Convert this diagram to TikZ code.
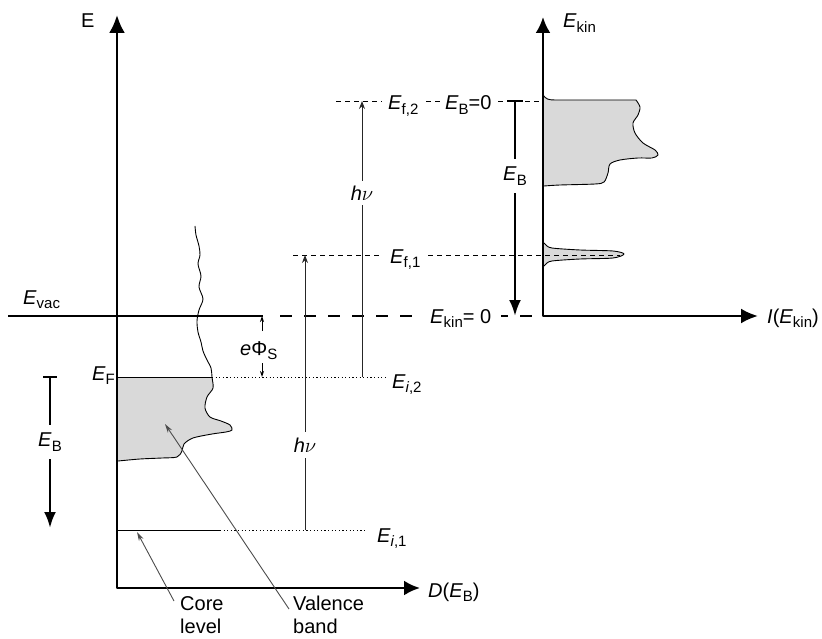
\documentclass[tikz,border=0pt]{standalone}
\usepackage{fontspec}
\setmainfont{Liberation Sans}
\usetikzlibrary{arrows.meta}
\newcommand{\Ei}{\textit{E}}
\newcommand{\sbs}[1]{\raisebox{-4.5pt}{\fontsize{15}{15}\selectfont #1}}
\begin{document}
\begin{tikzpicture}[x=1pt,y=-1pt,line join=round,
  lbl/.style={inner sep=0pt,font=\fontsize{20}{23}\selectfont},
  wlbl/.style={lbl,fill=white,inner xsep=3pt,inner ysep=2pt},
  ax/.style={line width=2.6pt},
  bigtip/.style={-{Latex[length=16pt,width=14pt]}},
  midtip/.style={-{Latex[length=16pt,width=12pt]}},
  thinln/.style={line width=0.9pt},
  hvline/.style={line width=0.9pt,black!85,-{Stealth[length=8pt,width=6pt]}},
  ptr/.style={line width=0.9pt,black!70,-{Stealth[length=9pt,width=5pt]}},
  smallptr/.style={line width=0.9pt,-{Stealth[length=6pt,width=4pt]}},
  thindash/.style={line width=0.9pt,dash pattern=on 5pt off 4pt},
  thickdash/.style={line width=2.6pt,dash pattern=on 12pt off 12pt},
  dots/.style={line width=1pt,dash pattern=on 1.2pt off 2.4pt},
]
\useasboundingbox (0,0) rectangle (822,639);

% ---------- left density of states ----------
\fill[black!15] (117,377) -- plot[smooth] coordinates {(212,377) (213,388) (207,397) (205,408) (210,417) (221,421) (230,425) (232,430) (226,432) (212,434) (193,438) (184,444) (182,451) (177,457) (162,458) (140,459) (118,461)} -- cycle;
\draw[thinln] plot[smooth] coordinates {(195,226) (196,235) (199,246) (200,255) (198,264) (201,276) (199,287) (203,299) (199,310) (197,321) (198,332) (201,342) (203,351) (207,360) (211,368) (212,377) (213,388) (207,397) (205,408) (210,417) (221,421) (230,425) (232,430) (226,432) (212,434) (193,438) (184,444) (182,451) (177,457) (162,458) (140,459) (118,461)};

% ---------- right spectrum ----------
\filldraw[thinln,fill=black!15] (543,95) .. controls (546,99) and (548,100) .. (555,100) -- plot[smooth] coordinates {(636,100) (640,107) (638,115) (633,123) (635,133) (643,143) (655,150) (658,155) (652,158) (638,158) (620,160) (610,164) (608,173) (604,182) (595,184) (560,185) (544,186)};
\filldraw[thinln,fill=black!15] plot[smooth] coordinates {(543,242) (546,245) (552,248) (580,250) (613,251) (624,254) (613,258) (580,259) (552,261) (546,264) (543,267)};

% ---------- levels ----------
\coordinate (ef) at (117,377);
\coordinate (efe) at (212,377);
\coordinate (ei2) at (385,377);
\coordinate (cl) at (117,530);
\coordinate (cle) at (220,530);
\coordinate (ei1) at (367,530);
\coordinate (vacl) at (8,316);
\coordinate (vace) at (263,316);
\coordinate (kin0a) at (280,316);
\coordinate (kin0b) at (543,316);
\coordinate (f1a) at (293,255);
\coordinate (f1b) at (620,255);
\coordinate (f2a) at (336,101);
\coordinate (f2b) at (543,101);

\draw[thinln] (ef) -- (efe);
\draw[dots] (efe) -- (ei2);
\draw[thinln] (cl) -- (cle);
\draw[dots] (cle) -- (ei1);
\draw[ax] (vacl) -- (vace);
\draw[thickdash] (kin0a) -- (kin0b);
\draw[thindash] (f1a) -- (f1b);
\draw[thindash] (f2a) -- (f2b);

% ---------- transitions ----------
\coordinate (h1b) at (305,530);
\coordinate (h1t) at (305,255);
\coordinate (h2b) at (362,377);
\coordinate (h2t) at (362,101);
\draw[hvline] (h1b) -- (h1t);
\draw[hvline] (h2b) -- (h2t);

% work function arrows
\coordinate (wa) at (262,331);
\coordinate (wb) at (262,316);
\coordinate (wc) at (262,363);
\coordinate (wd) at (262,377);
\draw[smallptr] (wa) -- (wb);
\draw[smallptr] (wc) -- (wd);

% binding energy arrows
\coordinate (lb1) at (50,377);
\coordinate (lb2) at (50,528);
\draw[line width=2.2pt] (43,377) -- (57,377);
\draw[ax,midtip] (lb1) -- (lb2);
\coordinate (rb1) at (515,101);
\coordinate (rb2) at (515,316);
\draw[line width=2.2pt] (507,101) -- (523,101);
\draw[ax,midtip] (rb1) -- (rb2);

% ---------- axes ----------
\coordinate (O1) at (117,588);
\coordinate (Etop) at (117,15);
\coordinate (Dend) at (420,588);
\draw[ax,{Latex[length=18pt,width=16pt]}-{Latex[length=16pt,width=15pt]}] (Etop) -- (O1) -- (Dend);
\coordinate (O2) at (543,316);
\coordinate (Ktop) at (543,17);
\coordinate (Iend) at (758,316);
\draw[ax,{Latex[length=16pt,width=15pt]}-{Latex[length=17pt,width=15pt]}] (Ktop) -- (O2) -- (Iend);

% ---------- labels ----------
\node[lbl,anchor=base west] (Elbl) at (81,28) {E};
\node[lbl,anchor=base west] (Evac) at (23,304) {\Ei\sbs{vac}};
\node[lbl,anchor=base west] (EF) at (92,380) {\Ei\sbs{F}};
\node[lbl,anchor=base west] (ePhi) at (240,355) {\textit{e}Φ\sbs{S}};
\node[lbl,anchor=base west] (Ei2) at (392,388) {\Ei\sbs{\textit{i},2}};
\node[lbl,anchor=base west] (Ei1) at (377,542) {\Ei\sbs{\textit{i},1}};
\node[wlbl,inner ysep=6pt] (hn1) at (305,445) {\textit{h}$\nu$};
\node[wlbl,inner ysep=5pt] (hn2) at (362,193) {\textit{h}$\nu$};
\node[wlbl,anchor=base west,inner xsep=6pt] (Ef2) at (382,110) {\Ei\sbs{f,2}};
\node[wlbl,anchor=base west,inner xsep=5pt] (EB0) at (440,110) {\Ei\sbs{B}=0};
\node[wlbl,anchor=base west,inner xsep=8pt] (Ef1) at (382,263) {\Ei\sbs{f,1}};
\node[wlbl,anchor=base west,inner xsep=10pt] (Ek0) at (420,323) {\Ei\sbs{kin}= 0};
\node[wlbl,inner ysep=8pt] (EBr) at (515,176) {\Ei\sbs{B}};
\node[wlbl,inner ysep=8pt,inner xsep=1pt] (EBl) at (50,442) {\Ei\sbs{B}};
\node[lbl,anchor=base west] (Ekin) at (563,28) {\Ei\sbs{kin}};
\node[lbl,anchor=base west] (IE) at (767,323) {\textit{I}(\Ei\sbs{kin})};
\node[lbl,anchor=base west] (DE) at (428,597) {\textit{D}(\Ei\sbs{B})};
\node[lbl,anchor=north west,align=left] (core) at (180,596) {Core\\level};
\node[lbl,anchor=north west,align=left] (val) at (293,596) {Valence\\band};

% pointers
\coordinate (ch) at (137,532);
\coordinate (vh) at (165,424);
\draw[ptr] ([xshift=-6pt,yshift=-5pt]core.north west) -- (ch);
\draw[ptr] ([xshift=-4pt,yshift=-13pt]val.north west) -- (vh);
\end{tikzpicture}
\end{document}
